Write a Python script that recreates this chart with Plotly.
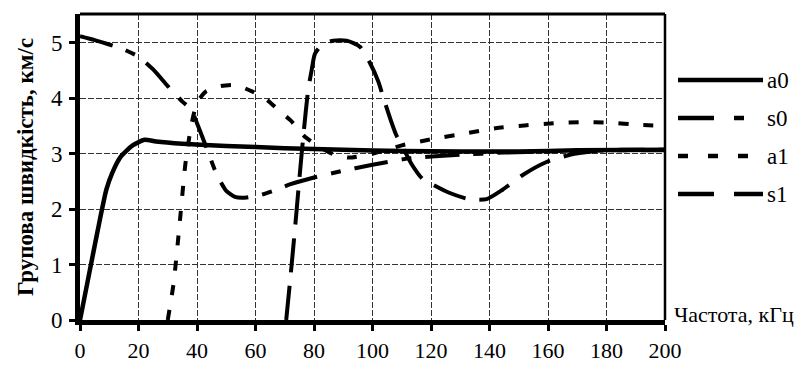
import plotly.graph_objects as go

# ---- data ----
a0_f = [0, 3, 6, 9, 11, 14, 18, 22, 26, 35, 50, 70, 90, 110, 130, 150, 170, 200]
a0_v = [0, 0.8, 1.6, 2.35, 2.65, 2.95, 3.15, 3.25, 3.22, 3.18, 3.14, 3.1, 3.07, 3.05, 3.04, 3.04, 3.06, 3.07]

s0_f = [0, 5, 10, 15, 20, 25, 30, 35, 38, 40, 42, 44, 46, 48, 50, 53, 57, 62, 66, 72, 80, 88, 100, 113, 130, 145, 160, 180, 200]
s0_v = [5.12, 5.05, 4.97, 4.88, 4.75, 4.52, 4.22, 3.94, 3.8, 3.55, 3.28, 3.0, 2.72, 2.5, 2.33, 2.22, 2.21, 2.26, 2.33, 2.45, 2.57, 2.67, 2.8, 2.92, 2.98, 3.02, 3.04, 3.06, 3.06]

a1_f = [30, 32, 34, 36, 38, 40, 43, 48, 53, 59, 64, 68, 72, 77, 82, 87, 92, 100, 110, 120, 131, 142, 152, 162, 171, 181, 191, 200]
a1_v = [0, 0.66, 1.7, 2.8, 3.5, 3.92, 4.12, 4.22, 4.24, 4.12, 3.97, 3.78, 3.6, 3.3, 3.12, 2.98, 2.93, 3.0, 3.15, 3.26, 3.36, 3.46, 3.51, 3.55, 3.57, 3.56, 3.52, 3.5]

s1_f = [70.5, 72, 73.5, 75, 76.5, 78, 79.2, 80.3, 82.6, 86.6, 91.2, 95.7, 99.1, 102, 103.6, 106, 108, 110.5, 113.5, 117, 120, 126, 133, 139, 144.5, 151.5, 159.5, 167.5, 175, 185, 200]
s1_v = [0, 0.8, 1.65, 2.55, 3.4, 4.15, 4.51, 4.8, 4.96, 5.04, 5.04, 4.93, 4.64, 4.3, 4.03, 3.64, 3.35, 3.1, 2.8, 2.55, 2.46, 2.3, 2.18, 2.18, 2.35, 2.62, 2.85, 2.98, 3.04, 3.07, 3.07]

series_names = ["a0", "s0", "a1", "s1"]
x_ticks = [0, 20, 40, 60, 80, 100, 120, 140, 160, 180, 200]
y_ticks = [0, 1, 2, 3, 4, 5]
y_title = "Групова швидкість, км/с"
x_title = "Частота, кГц"

series = [(a0_f, a0_v), (s0_f, s0_v), (a1_f, a1_v), (s1_f, s1_v)]
dashes = ["solid", "34px,14px,10px,14px", "10px,15px", "34px,14px"]
widths = [4.5, 4, 4, 4]

FONT = "Liberation Serif, Times New Roman, serif"

fig = go.Figure()
for (f, v), name, d, w in zip(series, series_names, dashes, widths):
    fig.add_trace(go.Scatter(x=f, y=v, mode="lines", name=name,
                             line=dict(color="black", width=w, dash=d,
                                       shape="spline", smoothing=0.6),
                             showlegend=False))

# custom legend (to match long sample lines)
L, R, T, B = 80, 145, 14, 46
W, H = 810 - L - R, 366 - T - B
def px(x):
    return (x - L) / W
def py(y):
    return (366 - B - y) / H

leg_dashes = ["solid", "36px,20px,10px,20px", "10px,20px", "36px,20px"]
for i, (name, d) in enumerate(zip(series_names, leg_dashes)):
    yy = 80 + 38 * i
    fig.add_shape(type="line", xref="paper", yref="paper",
                  x0=px(678), x1=px(763), y0=py(yy), y1=py(yy),
                  line=dict(color="black", width=4.5, dash=d))
    fig.add_annotation(xref="paper", yref="paper", x=px(765), y=py(yy),
                       text=name, showarrow=False, xanchor="left", yanchor="middle",
                       font=dict(family=FONT, size=23, color="black"))

# top and right borders
fig.add_shape(type="line", xref="paper", yref="paper", x0=0, x1=1, y0=1, y1=1,
              line=dict(color="black", width=3))
fig.add_shape(type="line", xref="paper", yref="paper", x0=1, x1=1, y0=0, y1=1,
              line=dict(color="black", width=2.5))

fig.add_annotation(xref="paper", yref="paper", x=px(672), y=py(314),
                   text=x_title, showarrow=False, xanchor="left", yanchor="middle",
                   font=dict(family=FONT, size=22, color="black"))

fig.update_layout(
    width=810, height=366,
    margin=dict(l=L, r=R, t=T, b=B, autoexpand=False),
    paper_bgcolor="white", plot_bgcolor="white",
    font=dict(family=FONT, size=23, color="black"),
    xaxis=dict(range=[0, 200], tickvals=x_ticks, ticktext=[str(t) for t in x_ticks],
               showline=True, linecolor="black", linewidth=5,
               ticks="outside", ticklen=6, tickwidth=3, tickcolor="black",
               tickfont=dict(family=FONT, size=22, color="black"),
               showgrid=True, gridcolor="#333", gridwidth=1, griddash="6px,2px",
               zeroline=False, ticklabelstandoff=1, automargin=False, fixedrange=True),
    yaxis=dict(range=[0, 5.52], tickvals=y_ticks, ticktext=[str(t) for t in y_ticks],
               showline=True, linecolor="black", linewidth=5,
               ticks="outside", ticklen=6, tickwidth=3, tickcolor="black",
               showgrid=True, gridcolor="#333", gridwidth=1, griddash="6px,2px",
               zeroline=False, ticklabelstandoff=2, automargin=False,
               title=dict(text="<b>" + y_title + "</b>", standoff=12,
                          font=dict(family=FONT, size=23, color="black")),
               fixedrange=True),
)

fig.write_html("out.html")
